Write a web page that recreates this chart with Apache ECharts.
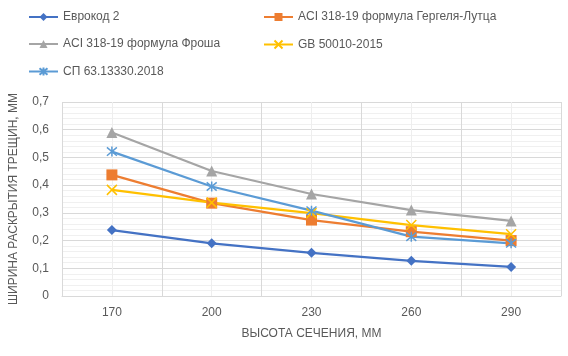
<!DOCTYPE html>
<html>
<head>
<meta charset="utf-8">
<script src="https://cdn.jsdelivr.net/npm/echarts@6/dist/echarts.min.js"></script>
<style>
  html, body { margin: 0; padding: 0; background: #fff; }
  #chart { width: 568px; height: 356px; }
</style>
</head>
<body>
<div id="chart"></div>
<script>
// данные графика
var heights = ['170', '200', '230', '260', '290'];
var yTicks = ['0', '0,1', '0,2', '0,3', '0,4', '0,5', '0,6', '0,7'];

var seriesNames = [
    'Еврокод 2',
    'ACI 318-19 формула Гергеля-Лутца',
    'ACI 318-19 формула Фроша',
    'GB 50010-2015',
    'СП 63.13330.2018'
];
var eurocode = [0.238, 0.190, 0.156, 0.127, 0.105];
var aciGergely = [0.437, 0.335, 0.274, 0.232, 0.200];
var aciFrosch = [0.590, 0.451, 0.368, 0.310, 0.271];
var gb = [0.383, 0.337, 0.299, 0.256, 0.223];
var sp = [0.521, 0.395, 0.308, 0.214, 0.190];

var textColor = '#595959';
var fontFam = '"Liberation Sans", Arial, sans-serif';

var dom = document.getElementById('chart');
var myChart = echarts.init(dom, null, { renderer: 'canvas' });

function lineSeries(name, data, color, symbol, size, hollow) {
    return {
        name: name,
        type: 'line',
        data: data,
        symbol: symbol,
        symbolSize: size,
        lineStyle: { color: color, width: 2.25 },
        itemStyle: hollow ? { color: 'none', borderColor: color, borderWidth: 1.5 } : { color: color, borderWidth: 0 },
        z: 3
    };
}

var crossPath = 'path://M0,0L10,10M10,0L0,10';
var starPath = 'path://M0,0L10,10M10,0L0,10M5,-1L5,11';

var legendBase = {
    top: 11,
    padding: 0,
    orient: 'vertical',
    itemWidth: 29,
    itemHeight: 10,
    itemGap: 15,
    textStyle: { color: textColor, fontSize: 12, fontFamily: fontFam }
};

var option = {
    animation: false,
    textStyle: { fontFamily: fontFam },
    legend: [
        echarts.util.merge({ left: 28, data: [seriesNames[0], seriesNames[2], seriesNames[4]] }, legendBase),
        echarts.util.merge({ left: 263, data: [seriesNames[1], seriesNames[3]] }, legendBase)
    ],
    grid: { left: 61, right: 7, top: 102, bottom: 60 },
    xAxis: [
        {
            type: 'category',
            data: heights,
            boundaryGap: true,
            name: 'ВЫСОТА СЕЧЕНИЯ, ММ',
            nameLocation: 'middle',
            nameGap: 32,
            nameTextStyle: { color: textColor, fontSize: 12 },
            axisLine: { lineStyle: { color: '#d9d9d9' } },
            axisTick: { show: false },
            axisLabel: { color: textColor, fontSize: 12, margin: 11 },
            splitLine: { show: true, interval: 0, lineStyle: { color: '#d9d9d9' } }
        },
        {
            // вспомогательная ось для промежуточных вертикальных линий
            type: 'value',
            min: 0,
            max: 10,
            interval: 2,
            show: true,
            position: 'bottom',
            axisLine: { show: false },
            axisTick: { show: false },
            axisLabel: { show: false },
            splitLine: { show: false },
            minorTick: { show: false, splitNumber: 2 },
            minorSplitLine: { show: true, lineStyle: { color: '#eeeeee' } }
        }
    ],
    yAxis: {
        type: 'value',
        min: 0,
        max: 0.7,
        interval: 0.1,
        name: 'ШИРИНА РАСКРЫТИЯ ТРЕЩИН, ММ',
        nameLocation: 'middle',
        nameGap: 42,
        nameTextStyle: { color: textColor, fontSize: 12 },
        axisLine: { show: false },
        axisTick: { show: false },
        axisLabel: {
            color: textColor,
            fontSize: 12,
            margin: 13,
            formatter: function (v) {
                return yTicks[Math.round(v * 10)];
            }
        },
        splitLine: { show: true, lineStyle: { color: '#d9d9d9' } },
        minorTick: { show: false, splitNumber: 5 },
        minorSplitLine: { show: true, lineStyle: { color: '#f0f0f0' } }
    },
    series: [
        lineSeries(seriesNames[0], eurocode, '#4472C4', 'diamond', 10, false),
        lineSeries(seriesNames[1], aciGergely, '#ED7D31', 'rect', 11, false),
        lineSeries(seriesNames[2], aciFrosch, '#A5A5A5', 'triangle', 11, false),
        lineSeries(seriesNames[3], gb, '#FFC000', crossPath, 10, true),
        lineSeries(seriesNames[4], sp, '#5B9BD5', starPath, 10, true)
    ]
};
myChart.setOption(option);
</script>
</body>
</html>
